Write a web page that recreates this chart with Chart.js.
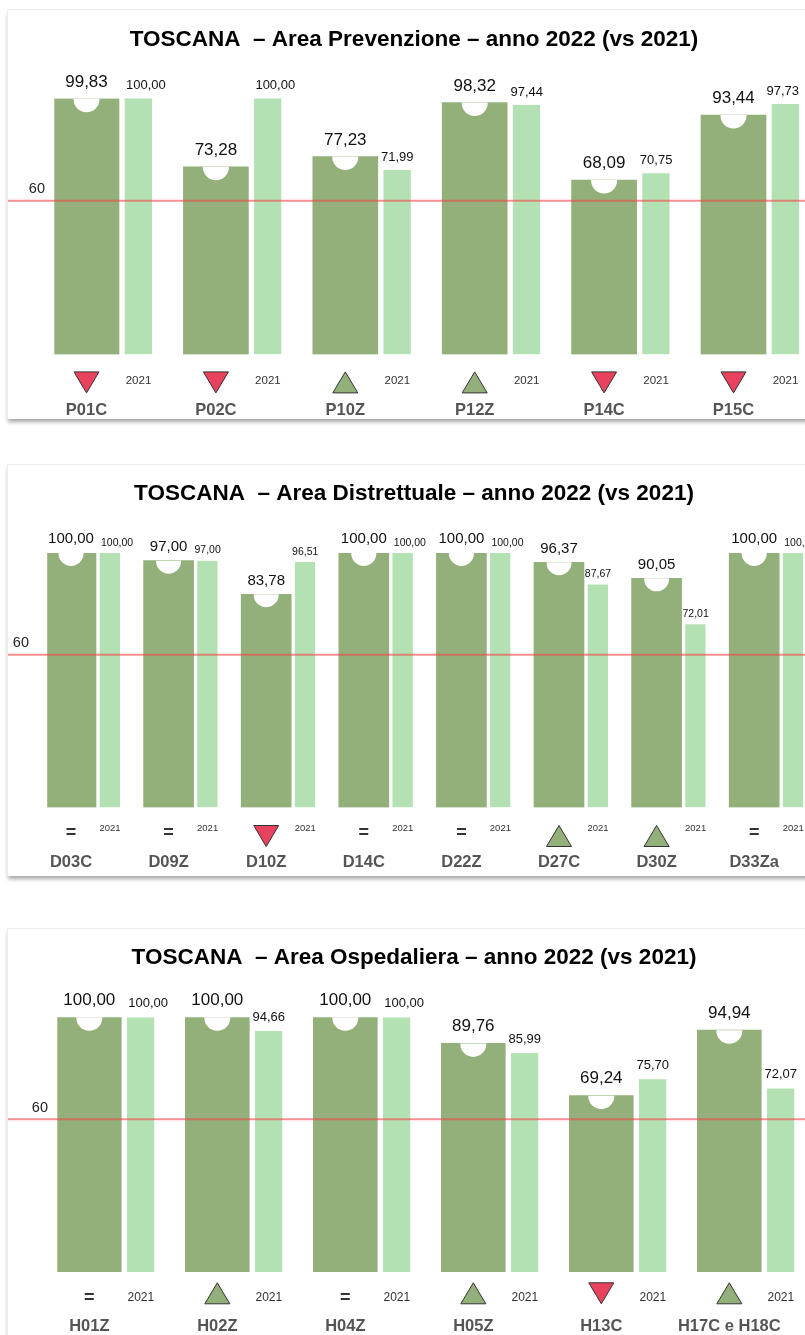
<!DOCTYPE html>
<html><head><meta charset="utf-8">
<script src="https://cdn.jsdelivr.net/npm/chart.js@4"></script>
<style>
html,body{margin:0;padding:0;background:#fff;}
#page{position:relative;width:805px;height:1335px;overflow:hidden;background:#fff;}
.card{position:absolute;left:7px;width:900px;background:#fff;border-top:1px solid #ececec;border-left:1px solid #ececec;box-shadow:0 4px 4px -1px rgba(0,0,0,0.35);}
canvas{position:absolute;left:0;}
</style></head><body>
<div id="page">
<div class="card" style="top:9px;height:409px"></div>
<div class="card" style="top:464px;height:411px"></div>
<div class="card" style="top:928px;height:460px"></div>
<canvas id="c1" width="840" height="425" style="top:0px"></canvas>
<canvas id="c2" width="840" height="440" style="top:440px"></canvas>
<canvas id="c3" width="840" height="435" style="top:900px"></canvas>
</div>
<script>
// ---------- DATA ----------
const prevCategories = ['P01C','P02C','P10Z','P12Z','P14C','P15C'];
const prev2022 = [99.83, 73.28, 77.23, 98.32, 68.09, 93.44];
const prev2021 = [100.00, 100.00, 71.99, 97.44, 70.75, 97.73];
const prevTrend = ['down','down','up','up','down','down'];

const distCategories = ['D03C','D09Z','D10Z','D14C','D22Z','D27C','D30Z','D33Za'];
const dist2022 = [100.00, 97.00, 83.78, 100.00, 100.00, 96.37, 90.05, 100.00];
const dist2021 = [100.00, 97.00, 96.51, 100.00, 100.00, 87.67, 72.01, 100.00];
const distTrend = ['eq','eq','down','eq','eq','up','up','eq'];

const ospCategories = ['H01Z','H02Z','H04Z','H05Z','H13C','H17C e H18C'];
const osp2022 = [100.00, 100.00, 100.00, 89.76, 69.24, 94.94];
const osp2021 = [100.00, 94.66, 100.00, 85.99, 75.70, 72.07];
const ospTrend = ['eq','up','eq','up','down','up'];

const yAxisRange = [0, 100];
const thresholdValue = 60;
const previousYearLabel = '2021';

const prevTitle = 'TOSCANA  \u2013 Area Prevenzione \u2013 anno 2022 (vs 2021)';
const distTitle = 'TOSCANA  \u2013 Area Distrettuale \u2013 anno 2022 (vs 2021)';
const ospTitle  = 'TOSCANA  \u2013 Area Ospedaliera \u2013 anno 2022 (vs 2021)';

// ---------- STYLE ----------
const DARK = '#93b07a';
const LIGHT = '#b4e1b4';
const RED = '#e8425f';
const FONT = '"Liberation Sans", Arial, sans-serif';

function fmt(v){ return v.toFixed(2).replace('.', ','); }

function tri(ctx, cx, cy, w, h, up, fill){
  ctx.beginPath();
  if (up){ ctx.moveTo(cx, cy-h/2); ctx.lineTo(cx+w/2, cy+h/2); ctx.lineTo(cx-w/2, cy+h/2); }
  else { ctx.moveTo(cx-w/2, cy-h/2); ctx.lineTo(cx+w/2, cy-h/2); ctx.lineTo(cx, cy+h/2); }
  ctx.closePath(); ctx.fillStyle = fill; ctx.fill();
  ctx.strokeStyle = '#333'; ctx.lineWidth = 1; ctx.stroke();
}

const decorPlugin = {
  id: 'panelDecor',
  afterDatasetsDraw(chart, args, o){
    const ctx = chart.ctx;
    const area = chart.chartArea;
    const ys = chart.scales.y;
    const m0 = chart.getDatasetMeta(0), m1 = chart.getDatasetMeta(1);
    const d0 = chart.data.datasets[0].data, d1 = chart.data.datasets[1].data;
    const labels = chart.data.labels;
    ctx.save();
    // notches in the 2022 bars
    m0.data.forEach(el => {
      const left = el.x - el.width/2;
      ctx.save();
      ctx.beginPath(); ctx.rect(left-1, el.y, el.width+2, o.notchR+3); ctx.clip();
      ctx.beginPath(); ctx.arc(el.x, el.y+0.5, o.notchR, 0, Math.PI*2);
      ctx.fillStyle = '#fff'; ctx.fill();
      ctx.restore();
    });
    // threshold line
    const ly = ys.getPixelForValue(thresholdValue);
    ctx.strokeStyle = 'rgba(240,70,70,0.6)'; ctx.lineWidth = 2;
    ctx.beginPath(); ctx.moveTo(8, ly); ctx.lineTo(chart.width, ly); ctx.stroke();
    ctx.fillStyle = '#222'; ctx.font = '14.5px ' + FONT;
    ctx.textAlign = 'right'; ctx.textBaseline = 'alphabetic';
    ctx.fillText(String(thresholdValue), o.thrX, ly - 7.4);
    // title
    ctx.fillStyle = '#000'; ctx.font = 'bold 22.5px ' + FONT; ctx.textAlign = 'center';
    ctx.fillText(o.title, 414, o.titleY);
    // value labels + bottom annotations
    m0.data.forEach((el, i) => {
      const lel = m1.data[i];
      const lLeft = lel.x - lel.width/2 + o.gap;
      const lRight = lel.x + lel.width/2;
      const lCx = (lLeft + lRight)/2;
      // 2022 label
      ctx.fillStyle = '#111'; ctx.textAlign = 'center';
      ctx.font = o.darkFont + 'px ' + FONT;
      ctx.fillText(fmt(d0[i]), el.x, el.y - o.darkOff);
      // 2021 label
      ctx.font = o.lightFont + 'px ' + FONT;
      const txt = fmt(d1[i]);
      const w = ctx.measureText(txt).width;
      let tx;
      if (d1[i] >= 100) tx = lLeft + 1;
      else { tx = lCx - w/2; if (tx + w > 799) tx = 799 - w; }
      ctx.textAlign = 'left';
      ctx.fillText(txt, tx, lel.y - o.lightOff);
      // year tag
      ctx.fillStyle = '#333'; ctx.textAlign = 'center'; ctx.textBaseline = 'middle';
      ctx.font = o.yearFont + 'px ' + FONT;
      ctx.fillText(previousYearLabel, lCx, area.bottom + o.yearOff);
      // trend marker
      const t = o.trend[i];
      if (t === 'up') tri(ctx, el.x, area.bottom + o.markOff, 25, 21, true, DARK);
      else if (t === 'down') tri(ctx, el.x, area.bottom + o.markOff, 25, 21, false, RED);
      else {
        ctx.fillStyle = '#333'; ctx.font = 'bold 18px ' + FONT;
        ctx.fillText('=', el.x, area.bottom + o.eqOff);
      }
      // category label
      ctx.fillStyle = '#555'; ctx.font = 'bold 16.5px ' + FONT;
      ctx.fillText(labels[i], el.x, area.bottom + o.catOff);
      ctx.textBaseline = 'alphabetic';
    });
    ctx.restore();
  }
};

function makeChart(id, cats, v22, v21, trend, layout, deco){
  return new Chart(document.getElementById(id), {
    type: 'bar',
    data: {
      labels: cats,
      datasets: [
        { label: '2022', data: v22, backgroundColor: DARK, barThickness: layout.darkW, borderWidth: 0 },
        { label: '2021', data: v21, backgroundColor: LIGHT, barThickness: layout.lightW + layout.gap,
          borderWidth: {left: layout.gap, right: 0, top: 0, bottom: 0}, borderColor: 'rgba(0,0,0,0)' }
      ]
    },
    options: {
      responsive: false, animation: false, devicePixelRatio: 1,
      layout: { padding: layout.padding },
      scales: {
        x: { display: false, offset: true, grid: { display: false } },
        y: { display: false, min: yAxisRange[0], max: yAxisRange[1], grid: { display: false } }
      },
      plugins: {
        legend: { display: false }, tooltip: { enabled: false }, title: { display: false },
        panelDecor: Object.assign({ trend: trend, gap: layout.gap }, deco)
      }
    },
    plugins: [decorPlugin]
  });
}

makeChart('c1', prevCategories, prev2022, prev2021, prevTrend,
  { darkW: 65, lightW: 27, gap: 6, padding: { left: 54.3, right: 9.3, top: 98.3, bottom: 70.6 } },
  { title: prevTitle, titleY: 46, thrX: 45, notchR: 13, darkFont: 17, darkOff: 12, lightFont: 13, lightOff: 9,
    yearFont: 11.5, yearOff: 26.3, markOff: 28, eqOff: 28, catOff: 56 });

makeChart('c2', distCategories, dist2022, dist2021, distTrend,
  { darkW: 50, lightW: 20, gap: 4, padding: { left: 47.2, right: 12, top: 113, bottom: 72.5 } },
  { title: distTitle, titleY: 60, thrX: 29, notchR: 12.5, darkFont: 15, darkOff: 9.7, lightFont: 10.5, lightOff: 7.3,
    yearFont: 9.5, yearOff: 20.8, markOff: 28.5, eqOff: 25.2, catOff: 55 });

makeChart('c3', ospCategories, osp2022, osp2021, ospTrend,
  { darkW: 64, lightW: 27, gap: 6, padding: { left: 57.3, right: 14.7, top: 117.3, bottom: 63 } },
  { title: ospTitle, titleY: 64, thrX: 48, notchR: 13, darkFont: 17, darkOff: 12.3, lightFont: 13, lightOff: 10,
    yearFont: 12, yearOff: 25.7, markOff: 21.3, eqOff: 25.7, catOff: 54 });
</script>
</body></html>
